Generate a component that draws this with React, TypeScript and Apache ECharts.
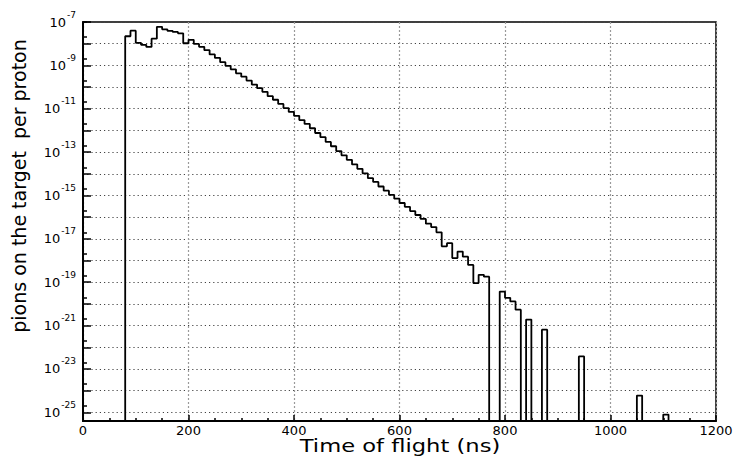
import React, { useEffect, useRef } from "react";
import * as echarts from "echarts";

// Histogram of pions on the target per proton, one value per 10 ns bin,
// first bin starting at 80 ns (0 = empty bin)
const BIN_START_NS = 80;
const BIN_WIDTH_NS = 10;
const pionsPerProton: number[] = [
  2.2e-8, 4.0e-8, 1.1e-8, 8.9e-9, 7.1e-9, 1.7e-8, 6.0e-8, 4.6e-8, 3.9e-8, 3.5e-8, // 80-170
  3.0e-8, 1.05e-8, 1.5e-8, 9.8e-9, 7.2e-9, 5.0e-9, 3.2e-9, 2.2e-9, 1.4e-9, 9.5e-10, // 180-270
  6.6e-10, 4.3e-10, 3.0e-10, 2.0e-10, 1.3e-10, 8.9e-11, 6.0e-11, 3.8e-11, 2.6e-11, 1.66e-11, // 280-370
  1.07e-11, 7.1e-12, 4.7e-12, 3.0e-12, 2.0e-12, 1.26e-12, 7.6e-13, 4.9e-13, 2.95e-13, 1.86e-13, // 380-470
  1.12e-13, 7.1e-14, 4.4e-14, 2.7e-14, 1.7e-14, 1.05e-14, 6.3e-15, 4.2e-15, 2.6e-15, 1.66e-15, // 480-570
  1.07e-15, 7.1e-16, 4.5e-16, 3.0e-16, 1.9e-16, 1.26e-16, 8.3e-17, 5.0e-17, 3.5e-17, 2.0e-17, // 580-670
  4.5e-18, 6.3e-18, 1.3e-18, 2.6e-18, 1.5e-18, 6.3e-19, 9.1e-20, 2.2e-19, 1.8e-19, 0, // 680-770
  0, 3.7e-20, 1.9e-20, 1.3e-20, 5.4e-21, 0, 1.9e-21, 0, 0, 6.5e-22, // 780-870
  0, 0, 0, 0, 0, 0, 3.8e-23, 0, 0, 0, // 880-970
  0, 0, 0, 0, 0, 0, 0, 5.9e-25, 0, 0, // 980-1070
  0, 0, 7.9e-26, // 1080-1100
];

const X_MIN = 0;
const X_MAX = 1200;
const X_STEP = 200;
const Y_MIN_EXP = -25.4;
const Y_MAX_EXP = -7;
const FLOOR_EXP = -30;
const LOG10_2 = Math.log10(2);

const X_TITLE = "Time of flight (ns)";
const Y_TITLE = "pions on the target  per proton";

const FONT = "DejaVu Sans";

export default function App() {
  const ref = useRef<HTMLDivElement>(null);

  useEffect(() => {
    if (!ref.current) return;
    const chart = echarts.init(ref.current, undefined, { renderer: "svg" });

    const pts: [number, number][] = [];
    pts.push([BIN_START_NS, FLOOR_EXP]);
    pionsPerProton.forEach((v, i) => {
      const x = BIN_START_NS + i * BIN_WIDTH_NS;
      pts.push([x, v > 0 ? Math.log10(v) : FLOOR_EXP]);
    });
    pts.push([BIN_START_NS + pionsPerProton.length * BIN_WIDTH_NS, FLOOR_EXP]);

    chart.setOption({
      animation: false,
      backgroundColor: "#fff",
      grid: {
        left: 83,
        right: 22,
        top: 22,
        bottom: 38,
        show: true,
        borderColor: "#000",
        borderWidth: 1.5,
      },
      graphic: [
        {
          type: "text",
          x: 400,
          y: 446,
          scaleX: 1.33,
          style: {
            text: X_TITLE,
            fontSize: 17,
            fontFamily: FONT,
            fill: "#000",
            align: "center",
            verticalAlign: "middle",
            textAlign: "center",
            textVerticalAlign: "middle",
          },
        },
      ],
      xAxis: {
        type: "value",
        min: X_MIN,
        max: X_MAX,
        interval: X_STEP,
        axisLine: { lineStyle: { color: "#000", width: 2 } },
        axisTick: { inside: true, length: 6, lineStyle: { color: "#000", width: 1.5 } },
        minorTick: { show: true, splitNumber: 4, length: 3, lineStyle: { color: "#000", width: 1.5 } },
        splitLine: { show: true, lineStyle: { color: "#9a9a9a", type: [2, 2], width: 1.2 } },
        axisLabel: {
          color: "#000",
          fontSize: 13,
          fontFamily: FONT,
          margin: 3,
          formatter: (v: number) => String(v),
        },
      },
      yAxis: [
        {
          type: "value",
          min: Y_MIN_EXP,
          max: Y_MAX_EXP,
          minInterval: 1,
          maxInterval: 1,
          axisLine: { lineStyle: { color: "#000", width: 2 } },
          axisTick: { inside: true, length: 8, lineStyle: { color: "#000", width: 1.5 } },
          splitLine: { show: true, lineStyle: { color: "#444", type: [1.2, 3], width: 1.2 } },
          axisLabel: {
            showMinLabel: false,
            margin: 7,
            formatter: (v: number) => {
              const n = Math.round(v);
              if (Math.abs(v - n) > 1e-6 || n % 2 === 0) return "";
              return `{b|10}{s|-${-n}}`;
            },
            rich: {
              b: { fontSize: 13, fontFamily: FONT, color: "#000", lineHeight: 14 },
              s: { fontSize: 9, fontFamily: FONT, color: "#000", lineHeight: 10, padding: [0, 0, 15, 1] },
            },
          },
          name: Y_TITLE,
          nameLocation: "middle",
          nameGap: 55,
          nameTextStyle: { color: "#000", fontSize: 19, fontFamily: FONT, padding: [0, 0, 0, 71] },
        },
        {
          // 5 x 10^n minor ticks drawn on the left edge
          type: "value",
          position: "right",
          offset: -633,
          min: Y_MIN_EXP + 1 - LOG10_2,
          max: Y_MAX_EXP + 1 - LOG10_2,
          minInterval: 1,
          maxInterval: 1,
          axisLine: { show: false },
          axisTick: { show: true, inside: false, length: 4, lineStyle: { color: "#000", width: 1.5 } },
          axisLabel: { show: false },
          splitLine: { show: false },
        },
      ],
      series: [
        {
          type: "line",
          data: pts,
          step: "end",
          symbol: "none",
          showSymbol: false,
          clip: true,
          yAxisIndex: 0,
          lineStyle: { color: "#000", width: 1.8 },
          silent: true,
        },
      ],
    });

    return () => chart.dispose();
  }, []);

  return (
    <div
      ref={ref}
      style={{ position: "fixed", left: 0, top: 0, width: 738, height: 459, background: "#fff" }}
    />
  );
}
